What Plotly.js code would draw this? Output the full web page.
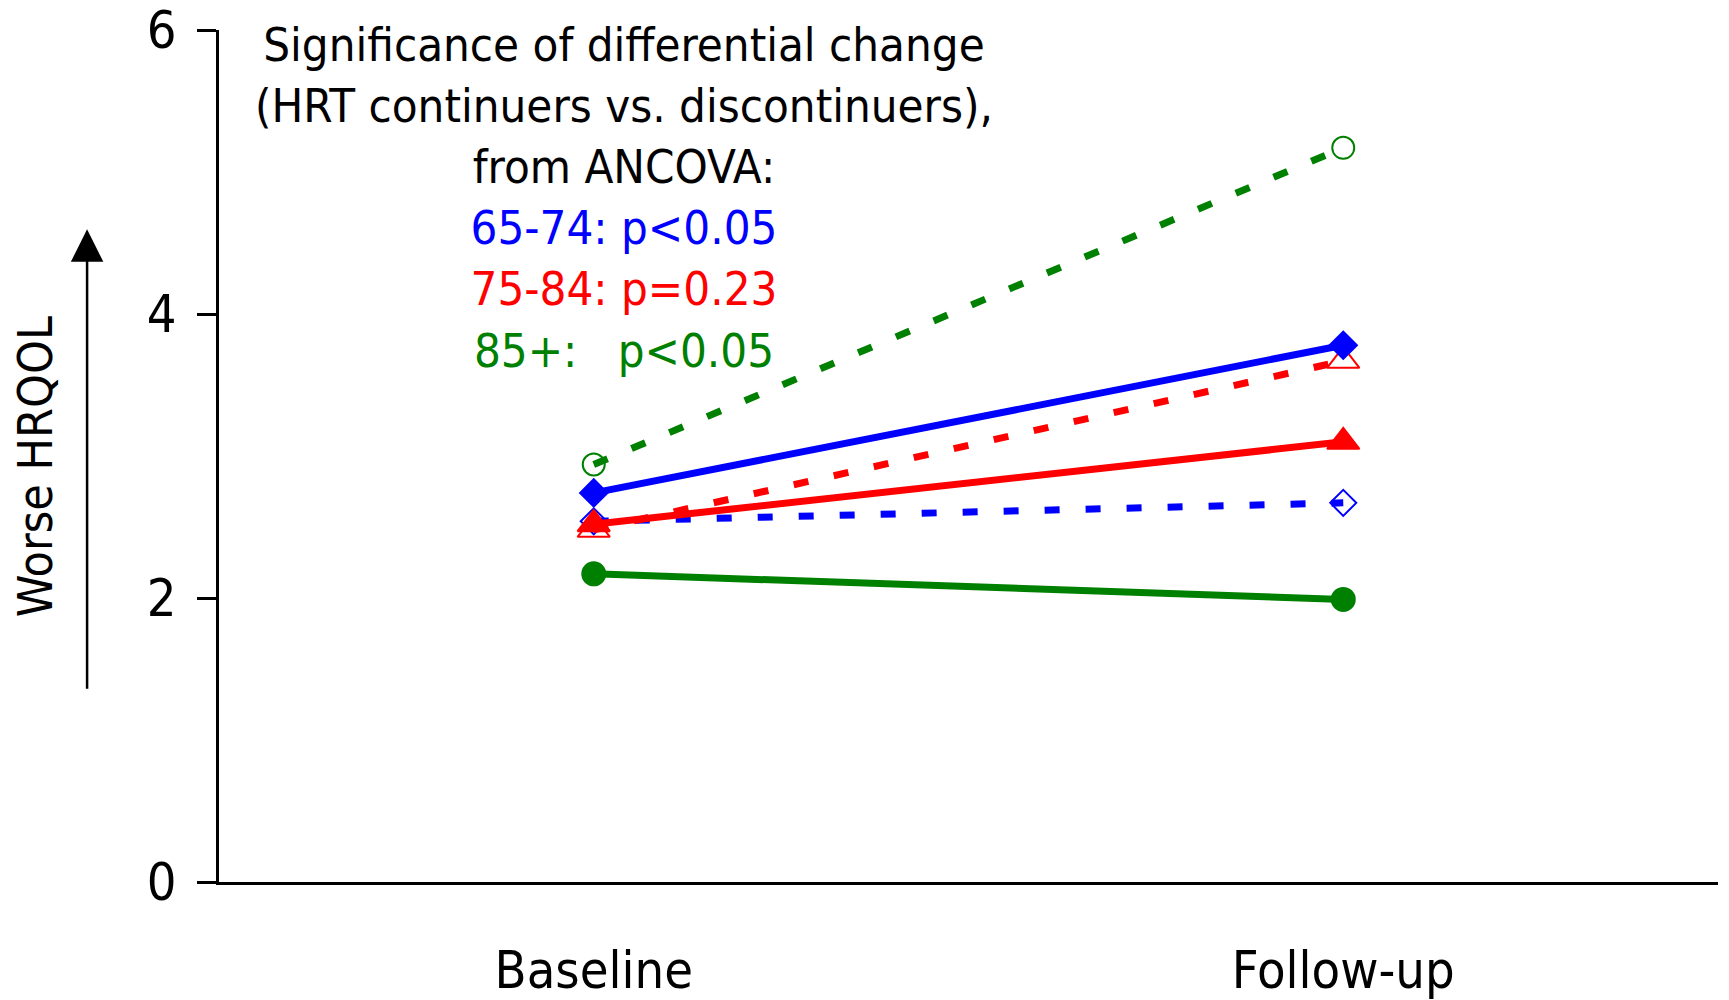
<!DOCTYPE html>
<html>
<head>
<meta charset="utf-8">
<script src="https://cdn.plot.ly/plotly-3.0.1.min.js"></script>
<style>html,body{margin:0;padding:0;background:#fff;}#chart{width:1729px;height:1000px;}</style>
</head>
<body>
<div id="chart"></div>
<script>
const categories = ['Baseline', 'Follow-up'];
const age6574_solid = [2.74, 3.78];
const age6574_dash  = [2.54, 2.67];
const age7584_solid = [2.52, 3.10];
const age7584_dash  = [2.48, 3.67];
const age85_solid   = [2.17, 1.99];
const age85_dash    = [2.94, 5.17];
const yTicks = [0, 2, 4, 6];

const FONT = '"DejaVu Sans Condensed", "DejaVu Sans", sans-serif';
const BLUE = '#0000ff', RED = '#ff0000', GREEN = '#008000';
const DASH = '15px,26px';

function tr(y, color, dash, symbol, size) {
  return {
    x: categories, y: y, type: 'scatter', mode: 'lines+markers',
    line: {color: color, width: 7, dash: dash},
    marker: {symbol: symbol, size: size, color: color,
             line: {color: color, width: 2}},
    showlegend: false, hoverinfo: 'skip', cliponaxis: false
  };
}

const data = [
  tr(age85_dash, GREEN, DASH, 'circle-open', 22),
  tr(age6574_dash, BLUE, DASH, 'diamond-open', 20),
  tr(age7584_dash, RED, DASH, 'triangle-up-open', 28),
  tr(age85_solid, GREEN, 'solid', 'circle', 23),
  tr(age7584_solid, RED, 'solid', 'triangle-up', 28),
  tr(age6574_solid, BLUE, 'solid', 'diamond', 21)
];

const noteText = 'Significance of differential change<br>(HRT continuers vs. discontinuers),<br>from ANCOVA:<br>' +
  '<span style="color:' + BLUE + '">65-74: p&lt;0.05</span><br>' +
  '<span style="color:' + RED + '">75-84: p=0.23</span><br>' +
  '<span style="color:' + GREEN + '">85+:\u00a0\u00a0\u00a0p&lt;0.05</span>';

const layout = {
  width: 1729, height: 1000,
  paper_bgcolor: '#fff', plot_bgcolor: '#fff',
  margin: {l: 219, r: 11, t: 30, b: 118},
  font: {family: FONT, color: '#000', size: 46},
  xaxis: {
    type: 'category', range: [-0.5, 1.5],
    showline: true, linecolor: '#000', linewidth: 3,
    showgrid: false, zeroline: false, ticks: '',
    tickfont: {family: FONT, size: 52, color: '#000'},
    ticklabelstandoff: 41
  },
  yaxis: {
    range: [0, 6], tickvals: yTicks,
    showline: true, linecolor: '#000', linewidth: 3,
    showgrid: false, zeroline: false,
    ticks: 'outside', ticklen: 19, tickwidth: 3, tickcolor: '#000',
    tickfont: {family: FONT, size: 52, color: '#000'},
    ticklabelstandoff: 10, ticklabeloverflow: 'allow'
  },
  annotations: [
    {xref: 'x', yref: 'y', x: 0.04, y: 4.82, xanchor: 'center', yanchor: 'middle',
     text: noteText, showarrow: false, align: 'center',
     font: {family: FONT, size: 47, color: '#000'}},
    {xref: 'paper', yref: 'paper', x: -0.1226, y: 0.487, xanchor: 'center', yanchor: 'middle',
     text: 'Worse HRQOL', textangle: -90, showarrow: false,
     font: {family: FONT, size: 48, color: '#000'}},
    {xref: 'paper', yref: 'paper', x: -0.088, y: 0.766, text: '', showarrow: true,
     ax: 0, ay: 461, arrowhead: 2, arrowsize: 2.6, arrowwidth: 2.5, arrowcolor: '#000', standoff: 0}
  ]
};

Plotly.newPlot('chart', data, layout, {displayModeBar: false, staticPlot: true});
</script>
</body>
</html>
